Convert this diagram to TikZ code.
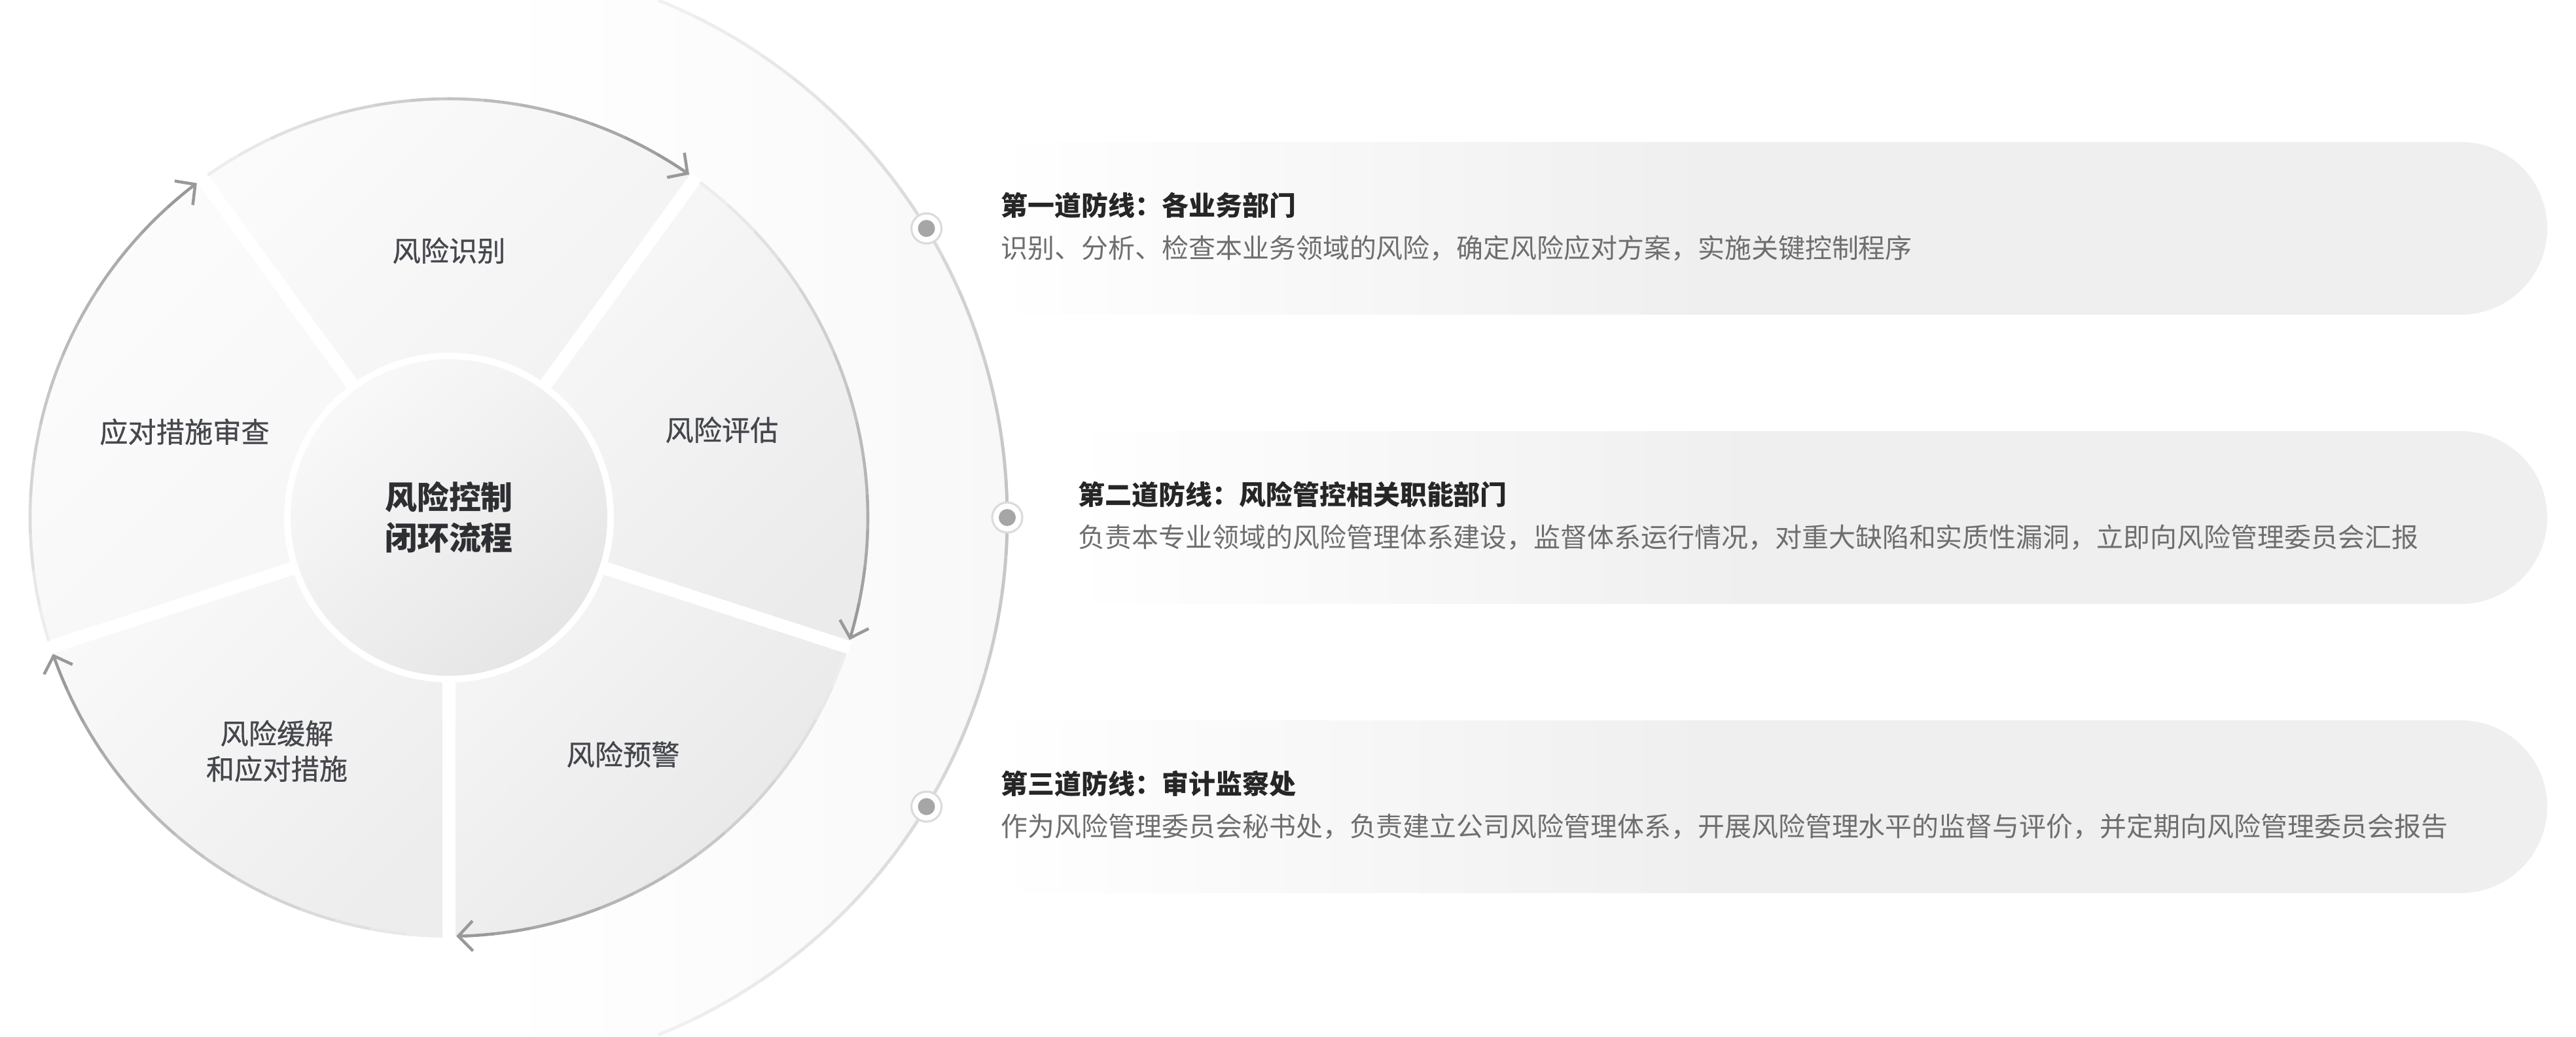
\documentclass[tikz,border=0pt]{standalone}
\usepackage{fontspec}
\setmainfont{Noto Sans CJK SC}
\usetikzlibrary{arrows.meta}

\definecolor{bandgray}{HTML}{EFEFEF}
\definecolor{ringfill}{HTML}{F8F8F8}
\definecolor{labelgray}{HTML}{45474D}
\definecolor{hubgray}{HTML}{2E2F33}
\definecolor{titlegray}{HTML}{262626}
\definecolor{descgray}{HTML}{6E6E6E}
\definecolor{dotgray}{HTML}{A6A6A6}
\pgfdeclarehorizontalshading{bandfade}{100bp}{color(0bp)=(white); color(25bp)=(white); color(48bp)=(bandgray); color(100bp)=(bandgray)}
\pgfdeclarehorizontalshading{ringfade}{100bp}{color(0bp)=(white); color(52bp)=(white); color(75bp)=(ringfill); color(100bp)=(ringfill)}

\tikzset{
  flowarc/.style={line width=1.3pt, line cap=round},
  steplabel/.style={text=labelgray, align=center, font=\fontsize{12.3pt}{15.4pt}\selectfont\addfontfeatures{FakeBold=0.6}},
  linetitle/.style={anchor=west, inner sep=0pt, text height=10.25pt, text depth=1.4pt, text=titlegray, font=\fontsize{11.65pt}{14pt}\selectfont\bfseries},
  linedesc/.style={linetitle, text=descgray, font=\fontsize{11.65pt}{14pt}\selectfont},
}

\begin{document}
\begin{tikzpicture}
  \useasboundingbox (0,0) rectangle (39.36,-15.84);
  \begin{scope}[shift={(6.86,-7.91)}]
    % outer ring of the three lines of defence
    \shade[shading=ringfade] (0,0) circle (8.53);
    \foreach \t in {68,64,...,-64} {
      \pgfmathtruncatemacro\c{24-18*abs(\t-2)/66}
      \draw[line width=1.4pt, black!\c] (\t:8.53) arc[start angle=\t, end angle=\t-4, radius=8.53];
    }
    % five steps
    \foreach \a/\lo/\hi in {-90/4/9.5, -18/3/8, 54/1.5/5, 126/1/3.5, 198/2.5/7}
      \shade[top color=black!\lo, bottom color=black!\hi, shading angle=45] (\a:6.40) arc[start angle=\a, end angle=\a+72, radius=6.40] -- (\a+72:2.45) arc[start angle=\a+72, end angle=\a, radius=2.45] -- cycle;
    \foreach \a in {-90,-18,54,126,198}
      \draw[white, line width=0.2cm] (\a:2.3) -- (\a:6.44);
    % hub
    \shadedraw[top color=black!2.5, bottom color=black!10, shading angle=40, draw=white, line width=1mm] (0,0) circle (2.47);
    % clockwise arrows, fading in
    \foreach \s in {-18,54,126,198,270} {
      \foreach \i in {0,...,12} {
        \pgfmathsetmacro\ta{\s-1-5*\i}
        \pgfmathtruncatemacro\c{7+\i*33/13}
        \draw[flowarc, black!\c] (\ta:6.40) arc[start angle=\ta, end angle=\ta-5, radius=6.40];
      }
      \draw[flowarc, black!40, -{Straight Barb[length=2.2mm, width=4.6mm]}] (\s-66:6.40) arc[start angle=\s-66, end angle=\s-71, radius=6.40];
    }
    % dots on the ring
    \foreach \t/\n in {31.2/1,0/2,-31.2/3} {
      \coordinate (dot\n) at (\t:8.53);
      \filldraw[fill=white, draw=black!14, line width=0.9pt] (dot\n) circle (0.23);
      \fill[dotgray] (dot\n) circle (0.13);
    }
  \end{scope}

  % bands
  \foreach \y/\x in {3.49/15.20, 7.91/16.38, 12.33/15.20}
    \shade[shading=bandfade] (\x,-\y+1.32) -- (37.60,-\y+1.32) arc[start angle=90, end angle=-90, radius=1.32] -- (\x,-\y-1.32) -- cycle;

  \node[steplabel] (identify) at (6.86,-3.83) {风险识别};
  \node[steplabel] (assess) at (11.03,-6.57) {风险评估};
  \node[steplabel] (warn) at (9.52,-11.53) {风险预警};
  \node[steplabel] (mitigate) at (4.23,-11.48) {风险缓解\\和应对措施};
  \node[steplabel] (review) at (2.82,-6.60) {应对措施审查};
  \node[align=center, text=hubgray, font=\fontsize{13.93pt}{17.4pt}\selectfont\bfseries] (hubtext) at (6.86,-7.905) {风险控制\\闭环流程};

  \node[linetitle] (title1) at (15.29,-3.135) {第一道防线：各业务部门};
  \node[linedesc] (desc1) at (15.29,-3.785) {识别、分析、检查本业务领域的风险，确定风险应对方案，实施关键控制程序};
  \node[linetitle] (title2) at (16.47,-7.555) {第二道防线：风险管控相关职能部门};
  \node[linedesc] (desc2) at (16.47,-8.205) {负责本专业领域的风险管理体系建设，监督体系运行情况，对重大缺陷和实质性漏洞，立即向风险管理委员会汇报};
  \node[linetitle] (title3) at (15.29,-11.975) {第三道防线：审计监察处};
  \node[linedesc] (desc3) at (15.29,-12.625) {作为风险管理委员会秘书处，负责建立公司风险管理体系，开展风险管理水平的监督与评价，并定期向风险管理委员会报告};
\end{tikzpicture}
\end{document}
